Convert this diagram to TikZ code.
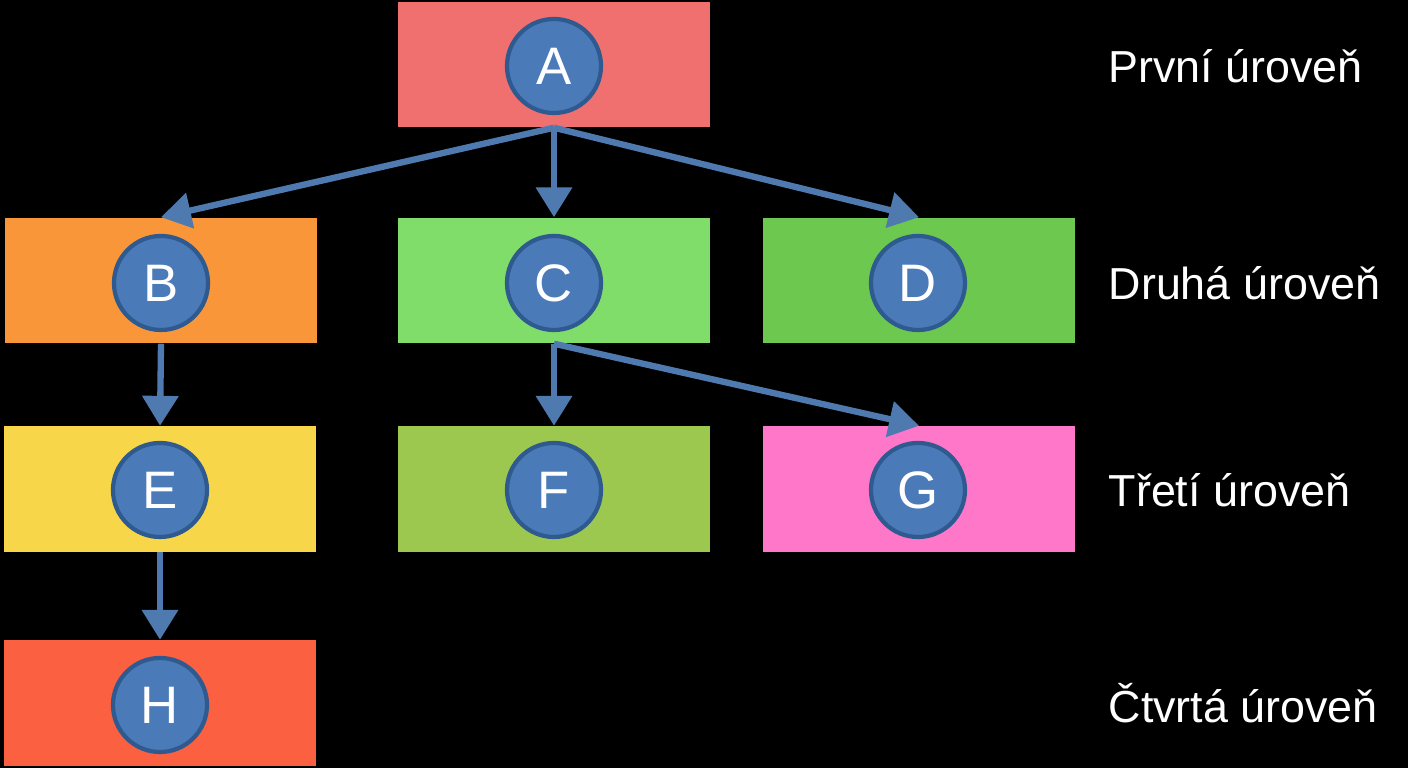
\documentclass[tikz,border=0pt]{standalone}
\usepackage{fontspec}
\setmainfont{Liberation Sans}
\usetikzlibrary{arrows.meta}
\definecolor{cA}{HTML}{F07070}
\definecolor{cB}{HTML}{F9963A}
\definecolor{cC}{HTML}{80DD6A}
\definecolor{cD}{HTML}{6CC84E}
\definecolor{cE}{HTML}{F8D64A}
\definecolor{cF}{HTML}{9CC850}
\definecolor{cG}{HTML}{FF77C8}
\definecolor{cH}{HTML}{FB6040}
\definecolor{circfill}{HTML}{4A7AB8}
\definecolor{circline}{HTML}{2E5A90}
\definecolor{arrowc}{HTML}{4F7AB0}
\tikzset{
  levelbox/.style={draw=none, minimum width=3.12cm, minimum height=1.25cm, inner sep=0pt},
  letter/.style={circle, fill=circfill, draw=circline, line width=1.2pt, minimum size=0.94cm, inner sep=0pt, text=white, font=\fontsize{15}{15}\selectfont},
  conn/.style={draw=arrowc, line width=1.8pt, -{Triangle[width=10pt,length=8.5pt]}},
  levellabel/.style={anchor=west, text=white, font=\fontsize{12.75}{14}\selectfont, inner sep=0pt}
}
\begin{document}
\begin{tikzpicture}[x=0.01cm, y=-0.01cm]
\fill[black] (0,0) rectangle (1408,768);
\useasboundingbox (0,0) rectangle (1408,768);
% boxes
\node[levelbox, fill=cA] (bA) at (554,64.5) {};
\node[levelbox, fill=cB] (bB) at (161,280.5) {};
\node[levelbox, fill=cC] (bC) at (554,280.5) {};
\node[levelbox, fill=cD] (bD) at (919,280.5) {};
\node[levelbox, fill=cE] (bE) at (160,489) {};
\node[levelbox, fill=cF] (bF) at (554,489) {};
\node[levelbox, fill=cG] (bG) at (919,489) {};
\node[levelbox, fill=cH] (bH) at (160,703) {};
% circles
\node[letter] (A) at (554,66) {A};
\node[letter] (B) at (161,283) {B};
\node[letter] (C) at (554,283) {C};
\node[letter] (D) at (918,283) {D};
\node[letter] (E) at (160,490) {E};
\node[letter] (F) at (554,490) {F};
\node[letter] (G) at (918,490) {G};
\node[letter] (H) at (160,705) {H};
% connectors
\draw[conn] (bA.south) -- (bB.north);
\draw[conn] (bA.south) -- (bC.north);
\draw[conn] (bA.south) -- (bD.north);
\draw[conn] (bB.south) -- (bE.north);
\draw[conn] (bC.south) -- (bF.north);
\draw[conn] (bC.south) -- (bG.north);
\draw[conn] (bE.south) -- (bH.north);
% level labels
\node[levellabel] (L1) at (1108,66) {První úroveň};
\node[levellabel] (L2) at (1108,283) {Druhá úroveň};
\node[levellabel] (L3) at (1108,490) {Třetí úroveň};
\node[levellabel] (L4) at (1108,703) {Čtvrtá úroveň};
\end{tikzpicture}
\end{document}
